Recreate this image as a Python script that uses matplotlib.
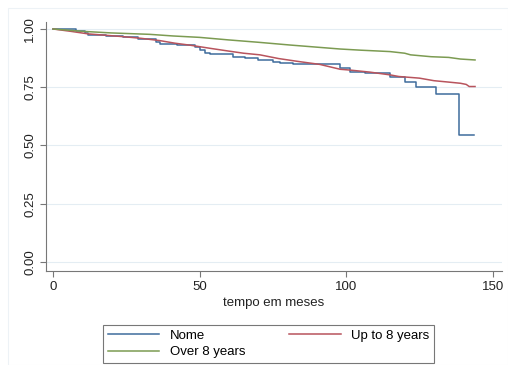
import matplotlib
matplotlib.use("Agg")
import matplotlib.pyplot as plt
from matplotlib.patches import Rectangle

plt.rcParams["font.family"] = ["Liberation Sans", "DejaVu Sans"]

# Kaplan-Meier survival estimates by schooling group (time in months)
nome_t = [0, 8, 11, 12, 18, 24, 29, 35, 36.5, 42.3, 48.5, 50, 52, 53.6, 61.4,
          65.5, 70, 75, 77.5, 82, 98, 101.4, 106.5, 115, 120, 124, 130.7,
          138.6, 143.5]
nome_s = [1.0, 0.991, 0.981, 0.974, 0.969, 0.964, 0.956, 0.946, 0.936, 0.931,
          0.922, 0.910, 0.899, 0.893, 0.881, 0.874, 0.867, 0.860, 0.853, 0.849,
          0.832, 0.817, 0.810, 0.796, 0.774, 0.753, 0.720, 0.543, 0.543]

upto8_t = [0, 6, 12, 24, 30, 36.5, 41.6, 47, 53.6, 60, 65, 70.6, 77, 84, 91,
           98, 101, 108, 115, 118, 125, 130, 135, 139, 141, 142, 144]
upto8_s = [1.0, 0.990, 0.979, 0.967, 0.960, 0.950, 0.939, 0.930, 0.917, 0.905,
           0.896, 0.889, 0.873, 0.860, 0.848, 0.827, 0.824, 0.815, 0.803,
           0.796, 0.789, 0.778, 0.772, 0.767, 0.762, 0.753, 0.753]

over8_t = [0, 10, 20, 33, 41, 50, 60, 70, 81, 90, 98, 105, 115, 120, 122,
           129, 135, 139, 144]
over8_s = [1.0, 0.990, 0.983, 0.977, 0.970, 0.964, 0.953, 0.943, 0.931, 0.922,
           0.914, 0.909, 0.903, 0.896, 0.889, 0.881, 0.878, 0.871, 0.867]

labels = ["Nome", "Up to 8 years", "Over 8 years"]
colors = ["#3F6C9C", "#B8545D", "#7C9B52"]
# the two large groups have many tiny steps, so they read as smooth lines
styles = ["steps-post", "default", "default"]
xticks = [0, 50, 100, 150]
yticks = [0.0, 0.25, 0.5, 0.75, 1.0]

W, H = 508, 365
fig = plt.figure(figsize=(W / 100, H / 100), dpi=100)
fig.patch.set_facecolor("white")

# faint outer graph frame
fig.patches.append(Rectangle((8 / W, 0), 1 - 8 / W, 1 - 8 / H,
                             transform=fig.transFigure, fill=False,
                             edgecolor="#EDF2F6", linewidth=0.8))

ax = fig.add_axes([46 / W, 1 - 271 / H, (502 - 46) / W, (271 - 22) / H])

series = [(nome_t, nome_s), (upto8_t, upto8_s), (over8_t, over8_s)]
handles = []
for (t, s), lab, col, ds in zip(series, labels, colors, styles):
    h, = ax.plot(t, s, drawstyle=ds, color=col, lw=1.1, label=lab)
    handles.append(h)

ax.set_xlim(-2.4, 153.2)
ax.set_ylim(-0.039, 1.03)
ax.set_xticks(xticks)
ax.set_yticks(yticks)
ax.set_yticklabels([f"{v:.2f}" for v in yticks], rotation=90, va="center")
ax.tick_params(axis="both", labelsize=9.5, length=4, width=0.8,
               color="#777777", labelcolor="#222222", pad=3)
ax.grid(axis="y", color="#E4EDF3", lw=0.8)
ax.set_axisbelow(True)
for side in ("top", "right"):
    ax.spines[side].set_visible(False)
for side in ("left", "bottom"):
    ax.spines[side].set_color("#777777")
    ax.spines[side].set_linewidth(0.8)

ax.set_xlabel("tempo em meses", fontsize=9.5, color="#222222", labelpad=3)

leg = fig.legend(handles=handles[:1] + handles[2:] + handles[1:2],
                 labels=[labels[0], labels[2], labels[1]],
                 loc="lower left", ncol=2, mode="expand",
                 bbox_to_anchor=(103 / W, 1 - 363 / H, 331 / W, 44 / H),
                 fontsize=9.5, frameon=True, fancybox=False,
                 edgecolor="#555555", handlelength=3.9, handletextpad=0.8,
                 labelspacing=0.35, borderpad=0.35, borderaxespad=0)
leg.get_frame().set_linewidth(0.8)

fig.savefig("out.png", dpi=100)
